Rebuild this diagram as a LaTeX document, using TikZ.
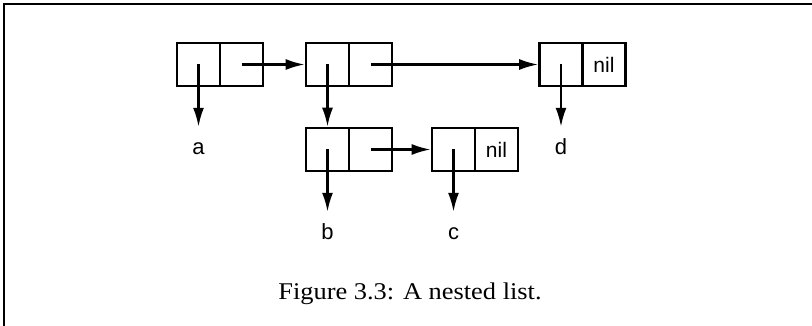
\documentclass[tikz,border=0pt]{standalone}
\usepackage{fontspec}
\setmainfont{Liberation Serif}
\newfontfamily\labfont{Liberation Sans}
\usetikzlibrary{arrows.meta}
\begin{document}
\begin{tikzpicture}[x=1pt,y=-1pt,
  half/.style={draw,line width=2.6pt,minimum width=43pt,minimum height=43pt,inner sep=0pt,font=\labfont\fontsize{21}{21}\selectfont},
  lbl/.style={font=\labfont\fontsize{22}{22}\selectfont,anchor=base,text height=20pt,text depth=0pt,inner xsep=0pt,inner ysep=8pt},
  arr/.style={line width=2.3pt,-{Latex[length=19pt,width=11pt]}},
  frame/.style={line width=2pt}]
\useasboundingbox (0,0) rectangle (812,326);
\draw[frame] (4,326) -- (4,4) -- (812,4);
% cons cells
\node[half] (c1a) at (198.5,64.5) {};
\node[half] (c1d) at (241.5,64.5) {};
\node[half] (c2a) at (327.5,64.5) {};
\node[half] (c2d) at (370.5,64.5) {};
\node[half] (c4a) at (561,64.5) {};
\node[half] (c4d) at (604,64.5) {nil};
\node[half] (c3a) at (327.5,149.5) {};
\node[half] (c3d) at (370.5,149.5) {};
\node[half] (c5a) at (453.5,149.5) {};
\node[half] (c5d) at (496.5,149.5) {nil};
% atoms
\node[lbl] (a) at (198.5,155) {a};
\node[lbl] (d) at (561,155) {d};
\node[lbl] (b) at (327.5,240) {b};
\node[lbl] (c) at (453.5,240) {c};
% pointers
\draw[arr] (c1d.center) -- (c2a.west);
\draw[arr] (c2d.center) -- (c4a.west);
\draw[arr] (c3d.center) -- (c5a.west);
\draw[arr] (c1a.center) -- (a);
\draw[arr] (c2a.center) -- (c3a.north);
\draw[arr] (c4a.center) -- (d);
\draw[arr] (c3a.center) -- (b);
\draw[arr] (c5a.center) -- (c);
% caption
\node[anchor=base,inner sep=0pt] (cap) at (410,299) {\scalebox{1.1}[1]{\fontsize{24}{24}\selectfont Figure 3.3: A nested list.}};
\end{tikzpicture}
\end{document}
